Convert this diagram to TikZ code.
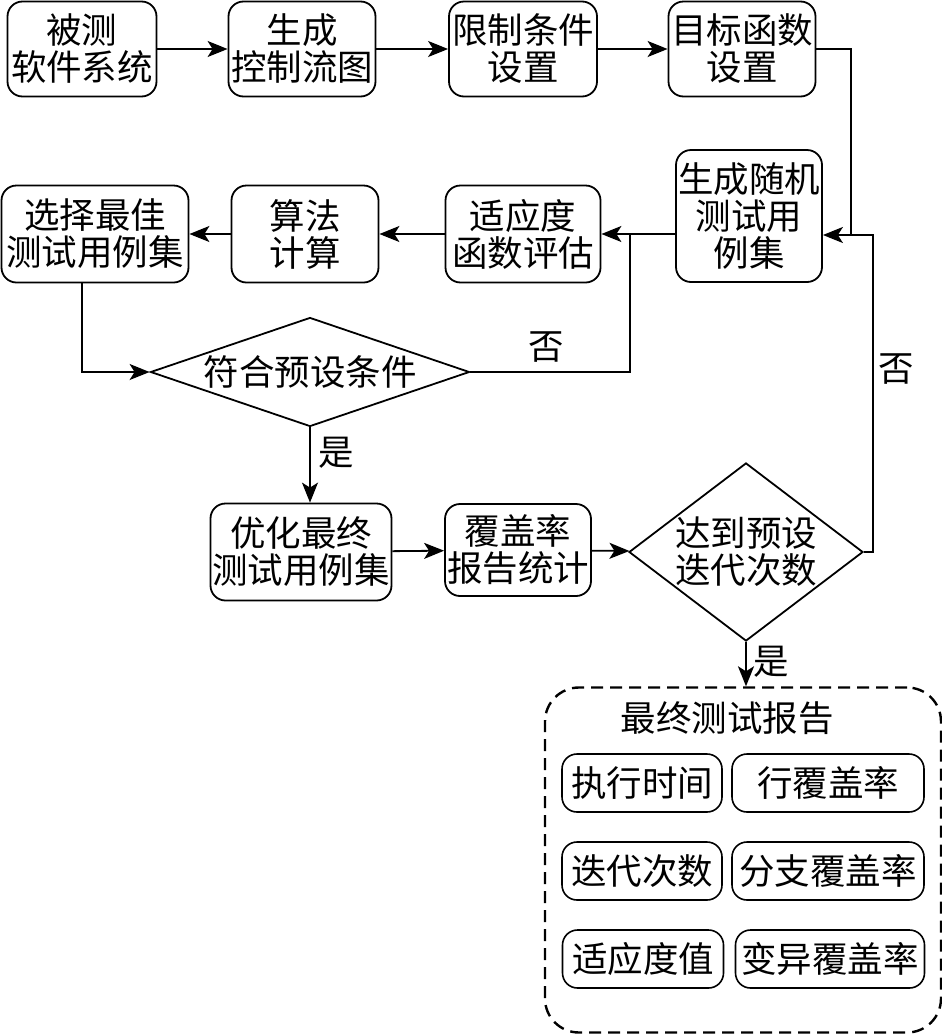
\documentclass[tikz,border=0pt]{standalone}
\usepackage{fontspec}
\setmainfont{Noto Sans CJK SC}
\usetikzlibrary{shapes.geometric, arrows.meta}
\tikzstyle{proc} = [rectangle, rounded corners=15pt, draw=black, line width=1.8pt, align=center, inner sep=0pt, minimum width=147pt, minimum height=95pt]
\tikzstyle{decision} = [diamond, draw=black, line width=1.8pt, align=center, inner sep=0pt]
\tikzstyle{item} = [rectangle, rounded corners=15pt, draw=black, line width=1.6pt, inner sep=0pt, minimum height=58pt]
\tikzstyle{group} = [rectangle, rounded corners=34pt, draw=black, line width=2.4pt, dash pattern=on 12pt off 7pt, minimum width=396pt, minimum height=345pt]
\tikzstyle{arrow} = [line width=1.8pt, -{Stealth[length=20pt, width=16pt, inset=5pt]}]
\tikzstyle{line} = [line width=1.8pt]

\begin{document}
\begin{tikzpicture}[x=1pt, y=-1pt, font=\fontsize{35.5}{37}\selectfont]
  \useasboundingbox (0,0) rectangle (942,1034);
  % Draw nodes
  \node (sut) [proc, minimum width=149pt] at (82,49) {被测\\软件系统};
  \node (cfg) [proc] at (302,49) {生成\\控制流图};
  \node (cons) [proc, minimum width=148pt] at (523,49) {限制条件\\设置};
  \node (obj) [proc] at (742,49) {目标函数\\设置};
  \node (rand) [proc, minimum width=146pt, minimum height=132pt] at (749,216) {生成随机\\测试用\\例集};
  \node (fit) [proc, minimum width=155pt, minimum height=97pt] at (523,234) {适应度\\函数评估};
  \node (alg) [proc, minimum height=97pt] at (305,234) {算法\\计算};
  \node (best) [proc, minimum width=187pt, minimum height=97pt] at (95,234) {选择最佳\\测试用例集};
  \node (cond) [decision, aspect=2.93, minimum width=319pt, minimum height=109pt] at (310,372) {符合预设条件};
  \node (opt) [proc, minimum width=181pt, minimum height=97pt] at (301,552) {优化最终\\测试用例集};
  \node (cov) [proc, minimum width=146pt, minimum height=92pt] at (518,550) {覆盖率\\报告统计};
  \node (iter) [decision, aspect=1.31, minimum width=234pt, minimum height=177pt] at (746,552) {达到预设\\迭代次数};
  \node (report) [group] at (743,860) {};
  \node (title) at (727,718) {最终测试报告};
  \node (time) [item, minimum width=160pt] at (642,783) {执行时间};
  \node (line) [item, minimum width=192pt] at (828,783) {行覆盖率};
  \node (count) [item, minimum width=160pt] at (642,871) {迭代次数};
  \node (branch) [item, minimum width=192pt] at (828,871) {分支覆盖率};
  \node (fval) [item, minimum width=161pt] at (643,959) {适应度值};
  \node (mut) [item, minimum width=189pt] at (830,959) {变异覆盖率};
  \coordinate (j1) at (851,235);
  \coordinate (j2) at (873,235);
  \coordinate (j3) at (630,234);
  % Draw arrows
  \draw [arrow] (sut) -- (cfg);
  \draw [arrow] (cfg) -- (cons);
  \draw [arrow] (cons) -- (obj);
  \draw [line] (obj.east) -| (j1);
  \draw [arrow] (iter.east) -| (j2) -- (j2 -| rand.east);
  \draw [arrow] (rand.west |- fit) -- (fit);
  \draw [arrow] (fit) -- (alg);
  \draw [arrow] (alg) -- (best);
  \draw [arrow] ([xshift=-13pt]best.south) |- (cond.west);
  \draw [line] (cond.east) -| (j3);
  \draw [arrow] (cond.south) -- (cond.south |- opt.north);
  \draw [arrow] (opt) -- (cov);
  \draw [arrow] (cov) -- (iter);
  \draw [arrow] (iter.south) -- (iter.south |- report.north);
  % Draw labels
  \node (no1) at (546,347) {否};
  \node (no2) at (896,369) {否};
  \node (yes1) at (336,453) {是};
  \node (yes2) at (771,662) {是};
\end{tikzpicture}
\end{document}
